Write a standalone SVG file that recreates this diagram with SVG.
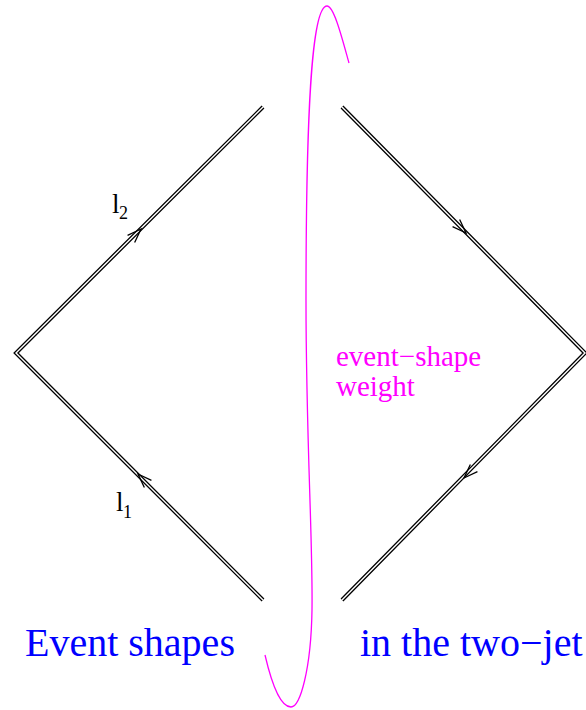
<svg xmlns="http://www.w3.org/2000/svg" xmlns:xlink="http://www.w3.org/1999/xlink" width="586" height="710" viewBox="0 0 586 710">
<style>
.outer{fill:none;stroke:#000;stroke-width:4;stroke-linejoin:miter}
.inner{fill:none;stroke:#fff;stroke-width:1.4;stroke-linejoin:miter}
.ah{fill:none;stroke:#000;stroke-width:1.3}
.lbl{font-family:"Liberation Serif","Times New Roman",serif;fill:#000}
.mag{font-family:"Liberation Serif","Times New Roman",serif;fill:#ff00ff;font-size:29px}
.blue{font-family:"Liberation Serif","Times New Roman",serif;fill:#0000ff;font-size:40px}
</style>
<defs>
<path id="arrow" d="M-14,-5 L0,0 L-14,5"/>
</defs>
<rect width="586" height="710" fill="#fff"/>
<g id="connectors">
<g id="left-wedge">
<path class="outer" d="M263,107 L16,353 L263,600"/>
<path class="inner" d="M263,107 L16,353 L263,600"/>
</g>
<g id="right-wedge">
<path class="outer" d="M342,107 L585,353 L342,600"/>
<path class="inner" d="M342,107 L585,353 L342,600"/>
</g>
<use xlink:href="#arrow" class="ah" transform="translate(141,229) rotate(-45)"/>
<use xlink:href="#arrow" class="ah" transform="translate(138,474) rotate(-135)"/>
<use xlink:href="#arrow" class="ah" transform="translate(466,233) rotate(45)"/>
<use xlink:href="#arrow" class="ah" transform="translate(464,478) rotate(135)"/>
</g>
<g id="weight-curve">
<path d="M349,63 C342,38 334,6 327,6 C311,6 306,120 306,300 C306,440 313,540 312,610 C311,670 300,707 291,707 C281,707 272,685 265,655" fill="none" stroke="#ff00ff" stroke-width="1.3"/>
</g>
<g id="label-l2">
<text class="lbl" x="112" y="213" font-size="27">l</text>
<text class="lbl" x="119" y="219" font-size="18">2</text>
</g>
<g id="label-l1">
<text class="lbl" x="116" y="511" font-size="27">l</text>
<text class="lbl" x="123" y="518" font-size="18">1</text>
</g>
<g id="weight-label">
<text class="mag" x="336" y="366">event−shape</text>
<text class="mag" x="336" y="396">weight</text>
</g>
<g id="title">
<text class="blue" x="25" y="656">Event shapes</text>
<text class="blue" x="360" y="656">in the two−jet</text>
</g>
</svg>
